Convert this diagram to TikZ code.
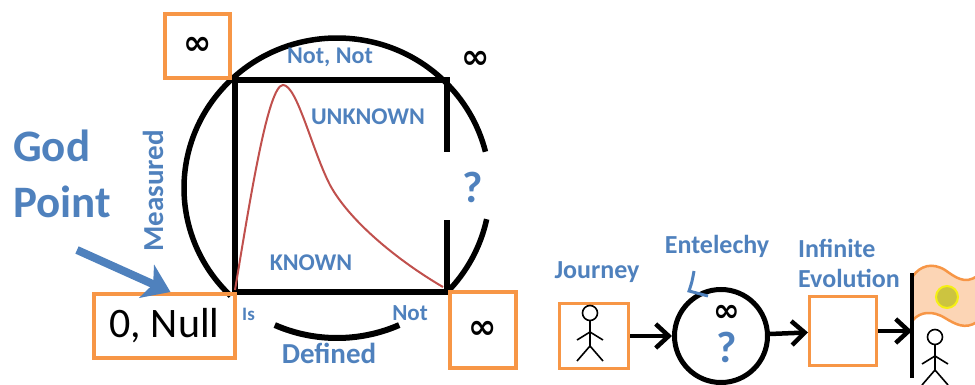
\documentclass[tikz,border=0pt]{standalone}
\usepackage{fontspec}
\setmainfont{Carlito}
\newfontfamily\symfont{DejaVu Sans}
\usetikzlibrary{arrows.meta,positioning}
\definecolor{txtblue}{RGB}{79,129,189}
\definecolor{boxorange}{RGB}{247,150,70}
\definecolor{curvered}{RGB}{192,80,77}
\definecolor{flagfill}{RGB}{252,213,181}
\definecolor{sunfill}{RGB}{204,196,64}
\definecolor{sunring}{RGB}{245,240,20}

\begin{document}
\begin{tikzpicture}[x=1pt,y=-1pt,
  lblsz/.style={font=\bfseries\fontsize{#1}{#1}\selectfont},
  lbl/.style={text=txtblue,inner sep=0,lblsz=24},
  inf/.style={font=\symfont\bfseries\fontsize{34}{34}\selectfont,inner sep=0},
  obox/.style={draw=boxorange,line width=4pt,inner sep=0},
  tbox/.style={draw=boxorange,line width=3pt,inner sep=0},
  flow/.style={line width=4.5pt,-{Straight Barb[length=13pt,width=24pt]}},
  stickman/.pic={
    \draw[line width=1.6pt] (0,0) circle (7.5) (0,7.5) -- (0,33)
      (-13,27) -- (0,19) -- (13,27) (-13,48) -- (0,33) -- (13,48);
  }]
\useasboundingbox (0,0) rectangle (975,385);

%circle and square
\draw[line width=5.5pt] (337,188) ++(12:153 and 150) arc[start angle=12,end angle=44,x radius=153,y radius=150];
\draw[line width=5.5pt] (337,188) ++(134:153 and 150) arc[start angle=134,end angle=346,x radius=153,y radius=150];
\draw[line width=6pt] (337,188) ++(66:153 and 150) arc[start angle=66,end angle=114,x radius=153,y radius=150];
\draw[line width=6pt] (447,152) -- (447,80) -- (235,80) -- (235,292) -- (447,292) -- (447,220);

%curve
\draw[curvered,line width=2pt] (235,290) .. controls (250,200) and (268,85) .. (283,85)
  .. controls (297,85) and (312,150) .. (330,185) .. controls (350,222) and (400,262) .. (443,287);

\node[lbl,anchor=base] (notnot) at (330,64) {Not, Not};
\node[lbl,anchor=base] (unknown) at (368,125) {UNKNOWN};
\node[lbl,anchor=base] (known) at (311,270) {KNOWN};
\node[lbl,lblsz=29,rotate=90,anchor=base] (measured) at (163,191) {Measured};
\node[lbl,lblsz=19,anchor=base west] (is) at (242,320) {Is};
\node[lbl,lblsz=23,anchor=base] (not) at (410,320) {Not};
\node[lbl,lblsz=29,anchor=base] (defined) at (329,363) {Defined};
\node[lbl,lblsz=44,anchor=base] (qleft) at (473,203) {?};

\node[obox,inf,minimum width=65pt,minimum height=64pt] (inftl) at (197.5,46) {∞};
\node[inf] (inftr) at (476,60) {∞};
\node[obox,inf,minimum width=66pt,minimum height=76pt] (infbr) at (483,330) {∞};
\node[obox,minimum width=141pt,minimum height=64pt,font=\fontsize{42}{42}\selectfont] (nullbox) at (164.5,326) {0, Null};

%god point
\node[lbl,lblsz=45,anchor=base west] (god) at (13,162) {God};
\node[lbl,lblsz=45,anchor=base west] (point) at (13,218) {Point};
\coordinate (godtail) at (77,250);
\draw[txtblue,line width=8pt,-{Stealth[length=26pt,width=36pt,inset=7pt]}] (godtail) -- ([xshift=6pt]nullbox.north);

%journey
\node[lbl,lblsz=26,anchor=base] (journey) at (597,278) {Journey};
\node[tbox,minimum width=69pt,minimum height=65pt] (jbox) at (594,336) {};
\pic at (590,313) {stickman};

\node[draw,line width=5pt,circle,minimum size=93pt,inner sep=0] (ent) at (721,336) {};
\node[inf,font=\symfont\bfseries\fontsize{32}{32}\selectfont] (entinf) at (727,313) {∞};
\node[lbl,lblsz=44,anchor=base] (entq) at (727,362) {?};
\node[lbl,lblsz=26,anchor=base] (entelechy) at (717,253) {Entelechy};
\draw[txtblue,line width=3pt] (694,271) .. controls (692,282) .. (689,291) -- (708,296);

\node[lbl,lblsz=26,anchor=base west] (infinite) at (798,257) {Infinite};
\node[lbl,lblsz=26,anchor=base west] (evolution) at (798,287) {Evolution};
\node[tbox,minimum width=67pt,minimum height=69pt] (ebox) at (843,331) {};

%flag
\coordinate (poletop) at (912,273);
\coordinate (polebot) at (912,378);
\coordinate (polemid) at (912,331);
\draw[boxorange,fill=flagfill,line width=2.5pt] (913,276) .. controls (920,266) and (932,262) .. (945,270)
  .. controls (955,277) and (965,285) .. (977,276) -- (977,322) .. controls (965,330) and (955,324) .. (945,318)
  .. controls (932,310) and (920,312) .. (913,320);
\draw[sunring,fill=sunfill,line width=2pt] (947,297) circle (11);
\draw[line width=4pt] (poletop) -- (polebot);
\pic at (935,337) {stickman};

%arrows
\draw[flow] (jbox) -- (ent);
\draw[flow] (ent) -- (ebox);
\draw[flow] (ebox) -- (polemid);

\end{tikzpicture}
\end{document}
